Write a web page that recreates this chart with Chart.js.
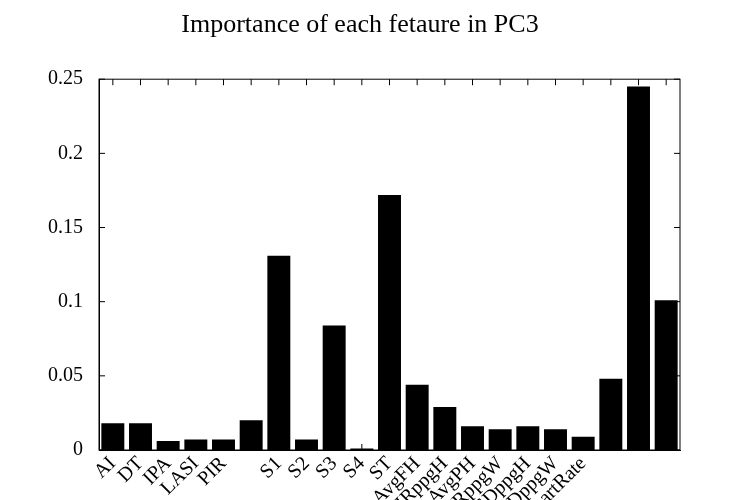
<!DOCTYPE html><html><head><script src="https://cdn.jsdelivr.net/npm/chart.js"></script>
<style>body{margin:0;background:#fff}#w{width:750px;height:500px}</style></head><body><div id="w"><canvas id="c"></canvas></div>
<script>
const categories=["AI","DT","IPA","LASI","PIR","","S1","S2","S3","S4","ST","AvgFH","HRppgH","AvgPH","HRppgW","SDppgH","SDppgW","HeartRate","","",""];
const values=[0.018,0.018,0.006,0.007,0.007,0.020,0.131,0.007,0.084,0.001,0.172,0.044,0.029,0.016,0.014,0.016,0.014,0.009,0.048,0.245,0.101];
const yTicks=[0,0.05,0.1,0.15,0.2,0.25];
const F="'Liberation Serif', 'DejaVu Serif', serif";
const tickLabels={0:"0",0.05:"0.05",0.1:"0.1",0.15:"0.15",0.2:"0.2",0.25:"0.25"};
new Chart(document.getElementById('c'),{type:'bar',
data:{labels:categories,datasets:[{data:values,backgroundColor:'#000',barPercentage:0.83,categoryPercentage:1}]},
options:{responsive:true,maintainAspectRatio:false,animation:false,
layout:{padding:{left:40,right:70,top:10,bottom:0}},
plugins:{legend:{display:false},title:{display:true,text:'Importance of each fetaure in PC3',font:{family:F,size:26,weight:'normal'},color:'#000',padding:{top:0,bottom:38}}},
scales:{x:{offset:true,afterFit:s=>{s.height=50},grid:{display:false,drawTicks:false},border:{color:'#000'},ticks:{color:'#000',font:{family:F,size:20},maxRotation:45,minRotation:45,autoSkip:false,padding:2}},
y:{min:0,max:0.25,afterBuildTicks:a=>{a.ticks=yTicks.map(v=>({value:v}))},grid:{display:false},border:{color:'#000'},ticks:{color:'#000',font:{family:F,size:20},callback:v=>tickLabels[v]??'',padding:8}}}},
plugins:[{id:'box',afterDraw(ch){const {ctx,chartArea:a,scales:{x,y}}=ch;ctx.save();ctx.strokeStyle='#000';ctx.lineWidth=1;ctx.strokeRect(a.left,a.top,a.right-a.left,a.bottom-a.top);
ctx.beginPath();yTicks.forEach(v=>{const p=y.getPixelForValue(v);ctx.moveTo(a.left,p);ctx.lineTo(a.left+6,p);ctx.moveTo(a.right,p);ctx.lineTo(a.right-6,p);});
categories.forEach((c,i)=>{const p=x.getPixelForValue(i);ctx.moveTo(p,a.bottom);ctx.lineTo(p,a.bottom-6);ctx.moveTo(p,a.top);ctx.lineTo(p,a.top+6);});ctx.stroke();ctx.restore();}}]
});
</script></body></html>
